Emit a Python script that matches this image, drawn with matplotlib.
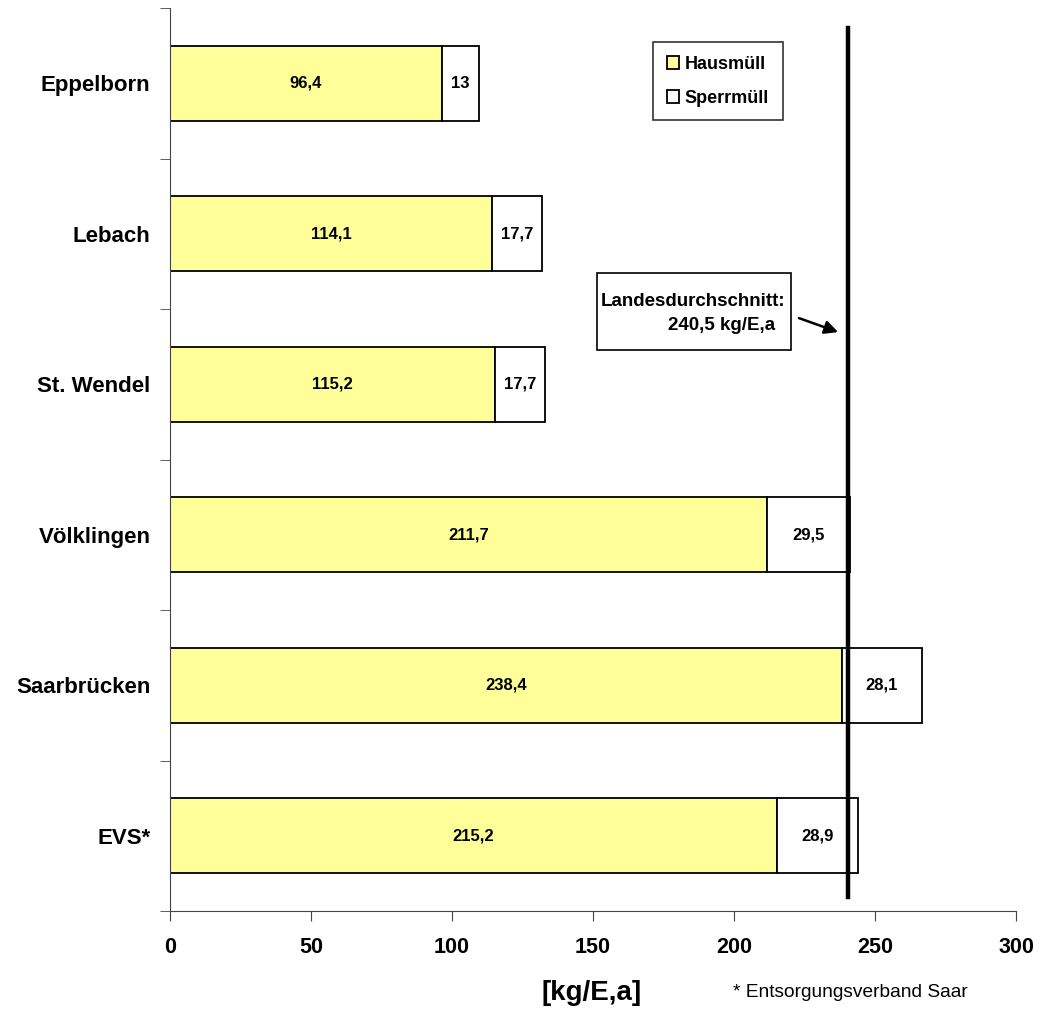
import numpy as np
import matplotlib.pyplot as plt
from matplotlib.patches import Rectangle

plt.rcParams['font.family'] = ['Liberation Sans', 'DejaVu Sans']

# Data
orte = ['Eppelborn', 'Lebach', 'St. Wendel', 'Völklingen', 'Saarbrücken', 'EVS*']
hausmuell = [96.4, 114.1, 115.2, 211.7, 238.4, 215.2]
sperrmuell = [13, 17.7, 17.7, 29.5, 28.1, 28.9]
haus_labels = ['96,4', '114,1', '115,2', '211,7', '238,4', '215,2']
sperr_labels = ['13', '17,7', '17,7', '29,5', '28,1', '28,9']
landesschnitt = 240.5

fig = plt.figure(figsize=(10.4, 10.1), dpi=100)
ax = fig.add_axes([0.1635, 0.098, 0.8135, 0.894])

y = np.arange(len(orte))
ax.barh(y, hausmuell, height=0.5, color='#FFFF99', edgecolor='black', linewidth=1.3, label='Hausmüll')
ax.barh(y, sperrmuell, left=hausmuell, height=0.5, color='white', edgecolor='black', linewidth=1.3, label='Sperrmüll')

for i in range(len(orte)):
    ax.text(hausmuell[i] / 2, y[i], haus_labels[i], ha='center', va='center', fontsize=12, fontweight='bold')
    ax.text(hausmuell[i] + sperrmuell[i] / 2, y[i], sperr_labels[i], ha='center', va='center', fontsize=12, fontweight='bold')

# Landesdurchschnitt
ax.plot([landesschnitt, landesschnitt], [-0.37, 5.41], color='black', linewidth=3.2, zorder=5)

ax.set_xlim(0, 300)
ax.set_ylim(5.5, -0.5)
ax.set_xticks(np.arange(0, 301, 50))
ax.set_xticklabels([str(v) for v in range(0, 301, 50)], fontsize=15.5, fontweight='bold')
ax.set_yticks(y)
ax.set_yticklabels(orte, fontsize=16, fontweight='bold')
ax.set_yticks(np.arange(-0.5, 5.6, 1), minor=True)
ax.tick_params(axis='y', which='major', length=0, pad=14)
ax.tick_params(axis='y', which='minor', length=7, direction='out', color='#444444')
ax.tick_params(axis='x', length=7, direction='out', pad=12, color='#444444')
ax.spines['top'].set_visible(False)
ax.spines['right'].set_visible(False)
ax.spines['left'].set_color('#444444')
ax.spines['bottom'].set_color('#444444')

fig.text(0.569, 0.017, '[kg/E,a]', fontsize=20, fontweight='bold', ha='center', va='center')

leg = ax.legend(loc='upper left', bbox_to_anchor=(0.571, 0.9623), frameon=True, fancybox=False,
                edgecolor='black', prop={'weight': 'bold', 'size': 13},
                handlelength=0.7, handleheight=0.7, handletextpad=0.3, labelspacing=0.95,
                borderpad=0.75, borderaxespad=0)
leg.get_frame().set_linewidth(1.2)

# annotation box
ax.add_patch(Rectangle((151.4, 1.261), 68.8, 0.511, facecolor='white', edgecolor='black',
                       linewidth=1.2, zorder=6))
ax.text(218.1, 1.453, 'Landesdurchschnitt:', ha='right', va='center', fontsize=13.5,
        fontweight='bold', zorder=7)
ax.text(214.5, 1.606, '240,5 kg/E,a', ha='right', va='center', fontsize=13.5,
        fontweight='bold', zorder=7)
ax.annotate('', xy=(236.9, 1.653), xytext=(223.0, 1.56),
            arrowprops=dict(arrowstyle='-|>', color='black', lw=1.8, mutation_scale=20,
                            shrinkA=0, shrinkB=0))

fig.text(0.705, 0.017, '* Entsorgungsverband Saar', fontsize=13.8, va='center')

fig.savefig('out.png', dpi=100)
